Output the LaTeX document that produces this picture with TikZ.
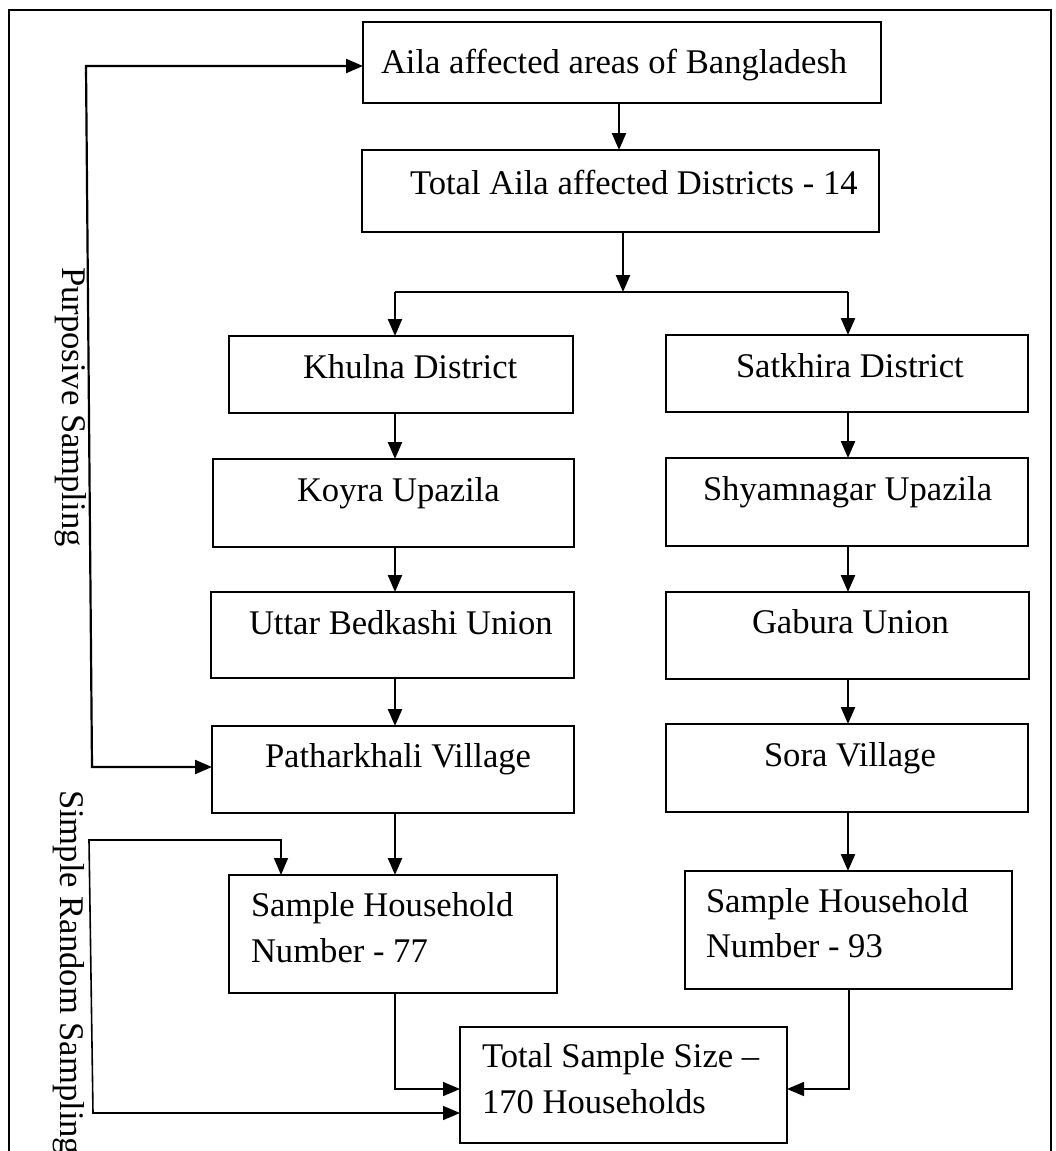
\documentclass[tikz,border=0pt]{standalone}
\usepackage{fontspec}
\setmainfont{Liberation Serif}
\usetikzlibrary{arrows.meta,calc}
\begin{document}
\begin{tikzpicture}[x=1pt,y=-1pt,
  box/.style={draw, line width=2pt, rectangle, outer sep=0pt, inner sep=0pt, anchor=north west},
  txt/.style={anchor=base west, inner sep=0pt, outer sep=0pt, font=\fontsize{34.6}{40}\selectfont},
  tip/.style={-{Triangle[length=17pt,width=14pt]}},
  arr/.style={line width=2.4pt, tip},
  thinarr/.style={line width=1.5pt, tip},
  bothtip/.style={{Triangle[length=17pt,width=14pt]}-{Triangle[length=17pt,width=14pt]}},
  frame/.style={line width=2pt}
]
\path[use as bounding box] (0,0) rectangle (1056,1151);
\clip (0,0) rectangle (1056,1151);
\fill[white] (0,0) rectangle (1056,1151);

% outer frame
\draw[frame] (9,1170) -- (9,10) -- (1051,10) -- (1051,1170);

% boxes
\node[box, minimum width=518pt, minimum height=81pt] (b1) at (363,22) {};
\node[box, minimum width=517pt, minimum height=82pt] (b2) at (362,150) {};
\node[box, minimum width=344pt, minimum height=77pt] (khulna) at (229,336) {};
\node[box, minimum width=362pt, minimum height=77pt] (satkhira) at (666,335) {};
\node[box, minimum width=361pt, minimum height=88pt] (koyra) at (213,459) {};
\node[box, minimum width=362pt, minimum height=88pt] (shyam) at (666,458) {};
\node[box, minimum width=363pt, minimum height=86pt] (uttar) at (211,592) {};
\node[box, minimum width=363pt, minimum height=87pt] (gabura) at (666,592) {};
\node[box, minimum width=362pt, minimum height=87pt] (pathar) at (212,726) {};
\node[box, minimum width=362pt, minimum height=88pt] (sora) at (666,724) {};
\node[box, minimum width=328pt, minimum height=118pt] (sh77) at (229,875) {};
\node[box, minimum width=327pt, minimum height=118pt] (sh93) at (685,871) {};
\node[box, minimum width=327pt, minimum height=116pt] (total) at (460,1027) {};

% texts
\node[txt] (t1) at (381,73) {Aila affected areas of Bangladesh};
\node[txt] (t2) at (410,194) {Total Aila affected Districts - 14};
\node[txt] (t3) at (303,378) {Khulna District};
\node[txt] (t4) at (736,377) {Satkhira District};
\node[txt] (t5) at (297,501) {Koyra Upazila};
\node[txt] (t6) at (703,500) {Shyamnagar Upazila};
\node[txt] (t7) at (249,634) {Uttar Bedkashi Union};
\node[txt] (t8) at (752,633) {Gabura Union};
\node[txt] (t9) at (265,767) {Patharkhali Village};
\node[txt] (t10) at (764,766) {Sora Village};
\node[txt] (t11a) at (251,916) {Sample Household};
\node[txt] (t11b) at (251,962) {Number - 77};
\node[txt] (t12a) at (706,912) {Sample Household};
\node[txt] (t12b) at (706,957) {Number - 93};
\node[txt] (t13a) at (482,1067) {Total Sample Size –};
\node[txt] (t13b) at (482,1113) {170 Households};

% side labels
\node[txt, rotate=-90] (lblP) at (62,267) {Purposive Sampling};
\node[txt, rotate=-90] (lblS) at (60,790) {Simple Random Sampling};

% helper coordinates
\coordinate (colL) at (395,0);
\coordinate (colR) at (848,0);
\coordinate (brL) at (395,292);
\coordinate (brR) at (848,292);
\coordinate (mL) at (395,1089);
\coordinate (mR) at (849,1089);
\coordinate (pTop) at (86,66);
\coordinate (pBot) at (92,767);
\coordinate (sTop) at (89,840);
\coordinate (sCorner) at (281,840);
\coordinate (sBot) at (93,1113);

% main connectors
\draw[arr] (b1.south -| 619,0) -- (b2.north -| 619,0);
\draw[arr] (b2.south -| 623,0) -- (623,292);
\draw[line width=2.2pt] (brL) -- (brR);
\draw[arr] (brL) -- (khulna.north -| brL);
\draw[arr] (brR) -- (satkhira.north -| brR);

\draw[arr] (khulna.south -| colL) -- (koyra.north -| colL);
\draw[arr] (koyra.south -| colL) -- (uttar.north -| colL);
\draw[arr] (uttar.south -| colL) -- (pathar.north -| colL);
\draw[arr] (pathar.south -| colL) -- (sh77.north -| colL);

\draw[arr] (satkhira.south -| colR) -- (shyam.north -| colR);
\draw[arr] (shyam.south -| colR) -- (gabura.north -| colR);
\draw[arr] (gabura.south -| colR) -- (sora.north -| colR);
\draw[arr] (sora.south -| colR) -- (sh93.north -| colR);

\draw[thinarr] (sh77.south -| mL) -- (mL) -- (total.west |- mL);
\draw[thinarr] (sh93.south -| mR) -- (mR) -- (total.east |- mR);

% purposive sampling bracket
\draw[line width=2.2pt, bothtip] (b1.west |- pTop) -- (pTop) -- (pBot) -- (pathar.west |- pBot);
% simple random sampling bracket
\draw[line width=1.6pt, bothtip] (sh77.north -| sCorner) -- (sCorner) -- (sTop) -- (sBot) -- (total.west |- sBot);
\end{tikzpicture}
\end{document}
